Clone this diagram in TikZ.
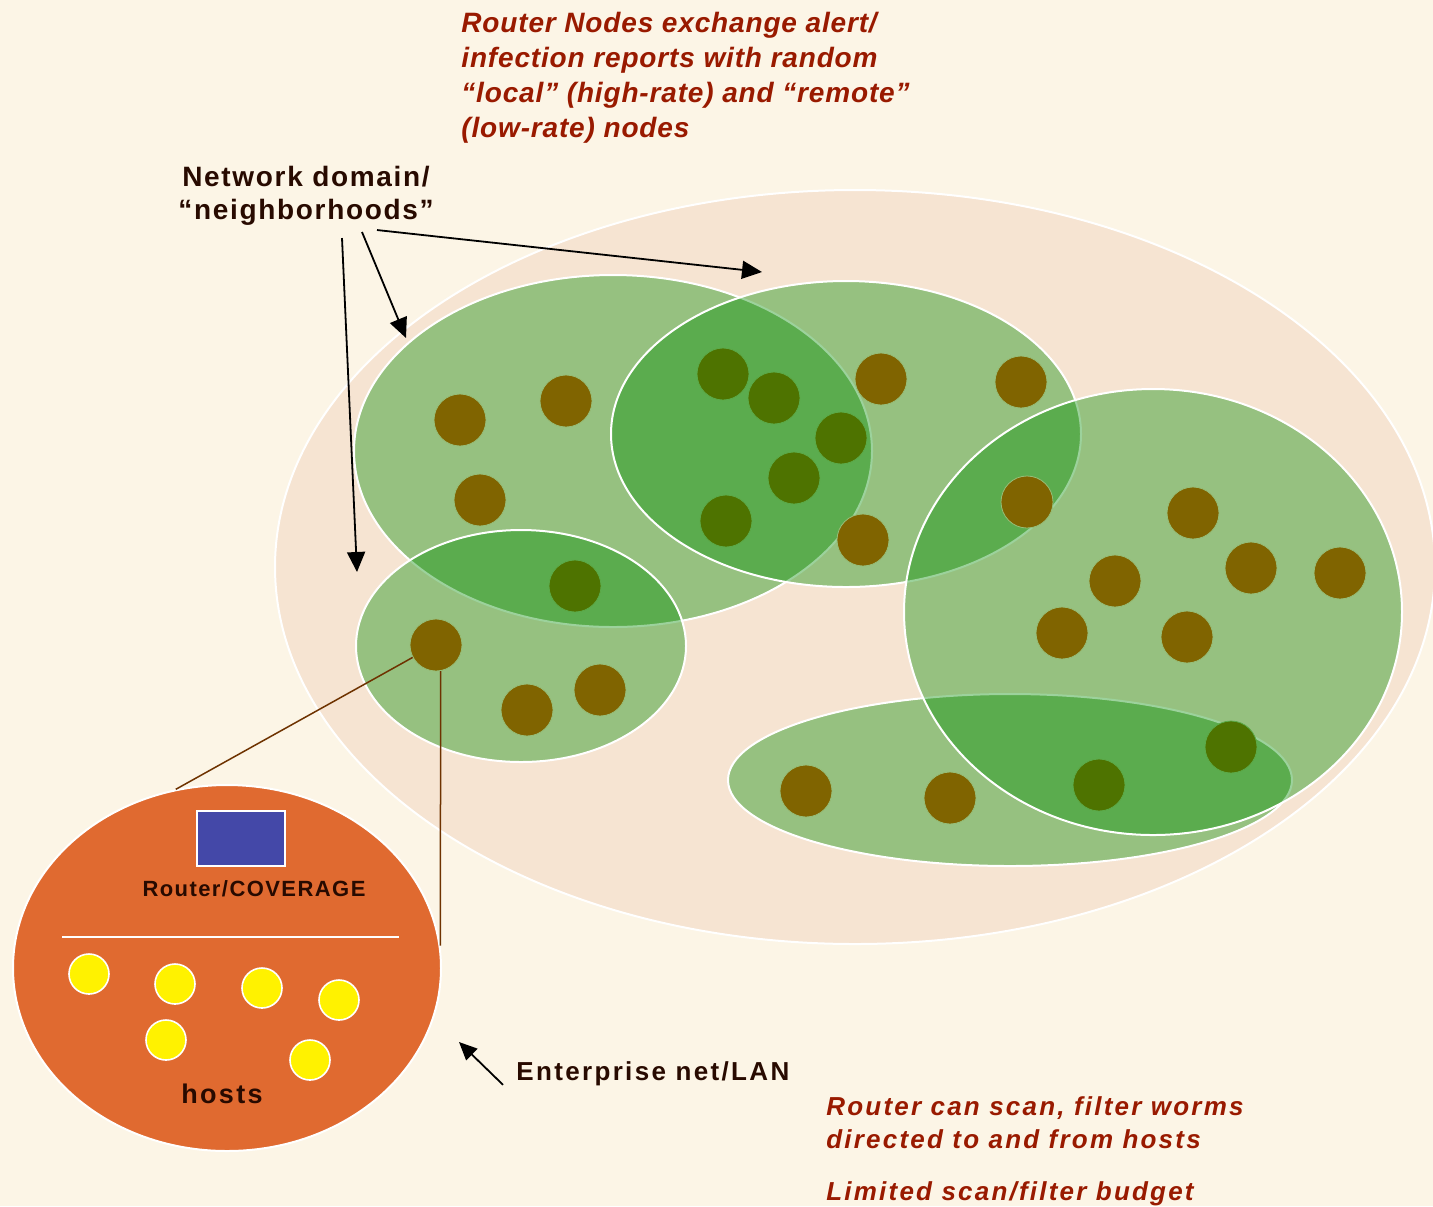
\documentclass[tikz,border=0pt]{standalone}
\usepackage{fontspec}
\setmainfont{Liberation Sans}
\usetikzlibrary{arrows.meta,shapes.geometric,positioning}

\definecolor{fondo}{RGB}{252,245,230}
\definecolor{dominio}{RGB}{246,228,210}
\definecolor{verde}{RGB}{0,140,0}
\definecolor{marron}{RGB}{128,100,0}
\definecolor{borde}{RGB}{150,190,120}
\definecolor{naranja}{RGB}{224,106,48}
\definecolor{azul}{RGB}{68,72,168}
\definecolor{rojo}{RGB}{153,26,0}
\definecolor{texto}{RGB}{40,10,0}
\definecolor{enlace}{RGB}{110,50,0}

\tikzset{
	zona/.style={fill=verde, fill opacity=0.39, draw=white, line width=1pt},
	punto/.style={circle, fill=marron, draw=borde, line width=0.4pt, minimum size=26pt, inner sep=0pt},
	host/.style={circle, fill=yellow, draw=white, line width=0.8pt, minimum size=20pt, inner sep=0pt},
	flecha/.style={-{Triangle[length=10pt,width=9pt]}, line width=0.9pt, black},
	nota/.style={text=rojo, inner sep=0pt},
	etiqueta/.style={text=texto, inner sep=0pt}
}

\begin{document}
\begin{tikzpicture}[x=0.5pt, y=-0.5pt]

\useasboundingbox (0,0) rectangle (1433,1206);
\fill[fondo] (0,0) rectangle (1433,1206);

% Red completa
\path[fill=dominio, draw=white, line width=1pt] (855,567) ellipse (580 and 377);

% Vecindario A
\path[zona] (613,451) ellipse (259 and 176);
	\foreach \p [count=\i] in {(460,420), (566,401), (480,500), (723,374), (774,398),
		(841,438), (794,478), (726,521), (575,586)}
		\node[punto] (a\i) at \p {};

% Vecindario D (con el router)
\path[zona] (521,646) ellipse (165 and 116);
\node[punto] (r) at (436,645) {};
	\foreach \p [count=\i] in {(527,710), (600,690)}
		\node[punto] (d\i) at \p {};

% Vecindario B
\path[zona] (846,434) ellipse (235 and 153);
	\foreach \p [count=\i] in {(881,379), (1021,382), (863,540)}
		\node[punto] (b\i) at \p {};

% Vecindario E
\path[zona] (1010,780) ellipse (282 and 86);
	\foreach \p [count=\i] in {(806,791), (950,798), (1099,785), (1231,747)}
		\node[punto] (e\i) at \p {};

% Vecindario C
\path[zona] (1153,612) ellipse (249 and 223);
	\foreach \p [count=\i] in {(1027,502), (1193,513), (1115,581), (1251,568),
		(1340,573), (1062,633), (1187,637)}
		\node[punto] (c\i) at \p {};

% Red local
\node[ellipse, fill=naranja, draw=white, line width=1pt, minimum width=214pt,
	minimum height=183pt, inner sep=0pt] (lan) at (227,968) {};
\node[fill=azul, draw=white, line width=0.8pt, minimum width=44pt, minimum height=27.5pt,
	inner sep=0pt] (router) at (241,838.5) {};
\node[etiqueta, anchor=base, font=\fontsize{11}{13}\selectfont\bfseries\addfontfeature{LetterSpace=6.5}]
	(cov) at (254,896) {Router/COVERAGE};
\draw[white, line width=0.8pt] (62,937) -- (399,937);
	\foreach \p [count=\i] in {(89,974), (175,984), (262,988), (339,1000), (166,1040), (310,1060)}
		\node[host] (h\i) at \p {};
\node[etiqueta, anchor=base, font=\fontsize{13.5}{15}\selectfont\bfseries\addfontfeature{LetterSpace=8.5}]
	(hosts) at (222,1103) {hosts};

\draw[enlace, line width=0.75pt] (r.208) -- (lan.106);
\draw[enlace, line width=0.75pt] (r.280) -- (lan.6);

% Textos
\node[nota, anchor=north west, align=left,
	font=\fontsize{14}{17.5}\selectfont\bfseries\itshape\addfontfeature{LetterSpace=3}] (rn) at (461,12)
	{Router Nodes exchange alert/\\infection reports with random\\``local'' (high-rate) and ``remote''\\(low-rate) nodes};

\node[etiqueta, align=center, anchor=north,
	font=\fontsize{14}{16.5}\selectfont\bfseries\addfontfeature{LetterSpace=6}] (nbhd) at (306,166)
	{Network domain/\\``neighborhoods''};

\coordinate (t1) at (357,572);
\coordinate (t2) at (406,338);
\coordinate (t3) at (762,272);
\draw[flecha] ([shift={(36,12)}]nbhd.south) -- (t1);
\draw[flecha] ([shift={(56,6)}]nbhd.south) -- (t2);
\draw[flecha] ([shift={(71,4)}]nbhd.south) -- (t3);

\node[etiqueta, anchor=base west, font=\fontsize{13}{15}\selectfont\bfseries\addfontfeature{LetterSpace=9}]
	(ent) at (516,1080) {Enterprise net/LAN};
\coordinate (t4) at (459,1042);
\draw[flecha, -{Triangle[length=9pt,width=8pt]}] ([shift={(-13,-1)}]ent.south west) -- (t4);

\node[nota, anchor=north west, align=left,
	font=\fontsize{13}{16.5}\selectfont\bfseries\itshape\addfontfeature{LetterSpace=8.5}] (rs) at (826,1096)
	{Router can scan, filter worms\\directed to and from hosts};
\node[nota, anchor=base west, font=\fontsize{13}{15}\selectfont\bfseries\itshape\addfontfeature{LetterSpace=8.5}]
	(lim) at (826,1200) {Limited scan/filter budget};

\end{tikzpicture}
\end{document}
